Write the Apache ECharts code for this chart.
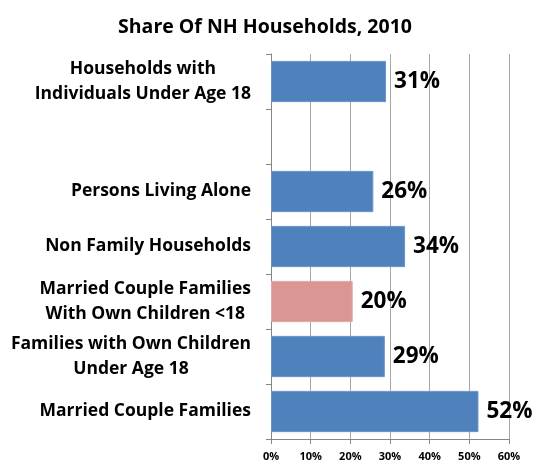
<!DOCTYPE html>
<html>
<head>
<meta charset="utf-8">
<script src="https://cdn.jsdelivr.net/npm/echarts@6/dist/echarts.min.js"></script>
<style>
html,body{margin:0;padding:0;background:#fff;}
#bar{width:534px;height:462px;}
</style>
</head>
<body>
<div id="bar"></div>
<script>
// categories, bottom to top (the empty one is the gap in the chart)
var categories = [
	'Married Couple Families',
	'Families with Own Children\nUnder Age 18',
	'Married Couple Families\nWith Own Children <18',
	'Non Family Households',
	'Persons Living Alone',
	'',
	'Households with\nIndividuals Under Age 18'
];
// bar lengths (percent)
var shares = [52.3, 28.7, 20.6, 33.8, 25.8, null, 29];
// printed labels next to the bars
var shareLabels = ['52%', '29%', '20%', '34%', '26%', '', '31%'];
var highlight = 2; // pink bar
var xTicks = [0, 10, 20, 30, 40, 50, 60];

var myChart = echarts.init(document.getElementById('bar'));

var font = '"Open Sans", Lato, sans-serif';

var option = {
	animation: false,
	title: {
		text: 'Share Of NH Households, 2010',
		left: 260,
		textAlign: 'center',
		top: 12,
		textStyle: {fontFamily: font, fontSize: 19.5, fontWeight: 'bold', color: '#000'}
	},
	grid: {left: 271, right: 25, top: 54, bottom: 22, containLabel: false},
	xAxis: {
		type: 'value',
		min: xTicks[0],
		max: xTicks[xTicks.length - 1],
		interval: 10,
		axisLine: {show: true, lineStyle: {color: '#868686'}},
		axisTick: {show: true, length: 5, lineStyle: {color: '#868686'}},
		splitLine: {show: true, lineStyle: {color: '#a6a6a6', width: 1}},
		axisLabel: {
			margin: 12,
			fontFamily: font, fontSize: 11, fontWeight: 'bold', color: '#000',
			formatter: function(v){ return v + '%'; }
		}
	},
	yAxis: {
		type: 'category',
		data: categories,
		axisLine: {show: true, lineStyle: {color: '#868686'}},
		axisTick: {show: true, length: 5, lineStyle: {color: '#868686'}},
		axisLabel: {
			margin: 20,
			align: 'right',
			fontFamily: font, fontSize: 17.5, fontWeight: 'bold', color: '#000',
			lineHeight: 25,
			formatter: function(v){
				return v.split('\n').map(function(s){ return '{c|' + s + '}'; }).join('\n');
			},
			rich: {c: {align: 'center', fontFamily: font, fontSize: 17.5, fontWeight: 'bold', color: '#000', lineHeight: 25}}
		}
	},
	series: [{
		type: 'bar',
		barCategoryGap: '25%',
		data: shares.map(function(v, i){
			return {
				value: v,
				itemStyle: {
					color: i === highlight ? '#d99694' : '#4f81bd',
					borderColor: i === highlight ? '#e0a9a8' : '#6b95c8',
					borderWidth: 1
				}
			};
		}),
		label: {
			show: true,
			position: 'right',
			distance: 8,
			fontFamily: font, fontSize: 22.5, fontWeight: 'bold', color: '#000',
			formatter: function(p){ return shareLabels[p.dataIndex]; }
		}
	}]
};

myChart.setOption(option);
</script>
</body>
</html>
